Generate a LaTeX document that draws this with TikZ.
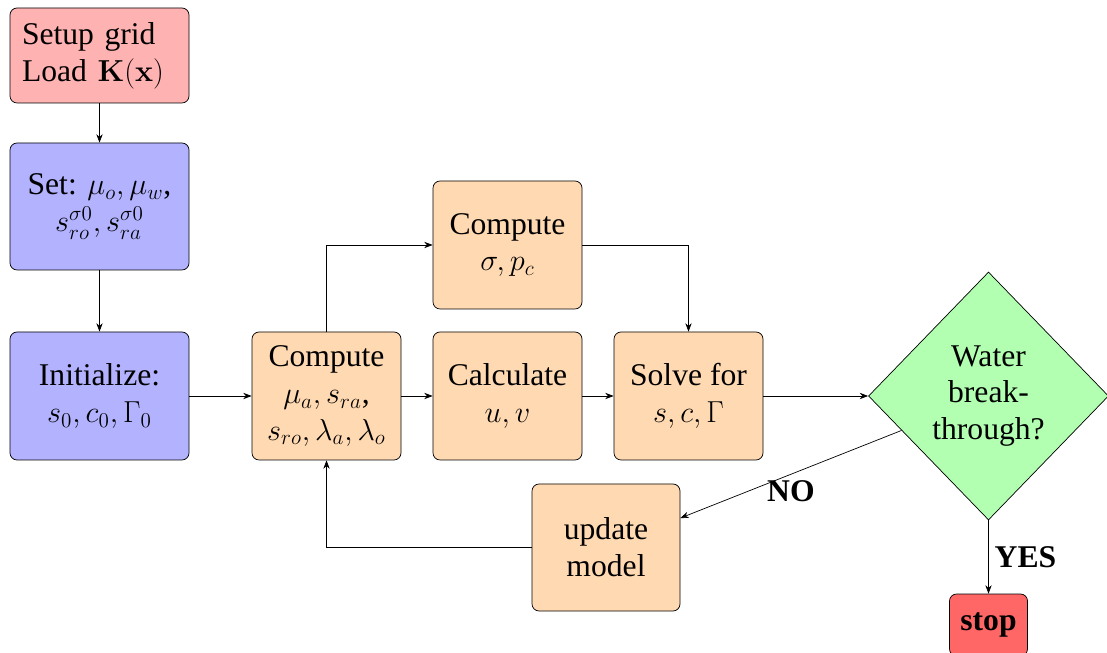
\documentclass[tikz,border=0pt]{standalone}
\usepackage[no-math]{fontspec}
\setmainfont{Liberation Serif}
\usetikzlibrary{shapes.geometric,arrows.meta}

\begin{document}
\begin{tikzpicture}[font=\fontsize{18}{21}\selectfont, >=Stealth,
  box/.style={draw, rounded corners=4pt, align=center, minimum width=2.98cm, minimum height=2.56cm, inner sep=2pt},
  prep/.style={box, fill=blue!30, minimum width=3.58cm},
  calcbox/.style={box, fill=orange!30}]
\useasboundingbox (0,0) rectangle (22.14,-13.06);
\node[box, fill=red!30, minimum width=3.58cm, minimum height=1.9cm, align=left, text width=3.1cm] (setup) at (1.99,-1.11) {Setup grid\\Load $\mathbf{K}(\mathbf{x})$};
\node[prep, minimum height=2.54cm] (set) at (1.99,-4.13) {Set: $\mu_o, \mu_w$,\\$s_{ro}^{\sigma 0}, s_{ra}^{\sigma 0}$};
\node[prep] (init) at (1.99,-7.92) {Initialize:\\$s_0, c_0, \Gamma_0$};
\node[calcbox] (comp) at (6.53,-7.92) {Compute\\$\mu_a, s_{ra}$,\\$s_{ro}, \lambda_a, \lambda_o$};
\node[calcbox] (sigma) at (10.15,-4.90) {Compute\\$\sigma, p_c$};
\node[calcbox] (calc) at (10.15,-7.92) {Calculate\\$u, v$};
\node[calcbox] (solve) at (13.77,-7.92) {Solve for\\$s, c, \Gamma$};
\node[draw, diamond, fill=green!30, minimum width=4.8cm, minimum height=4.96cm, inner sep=0pt, align=center] (water) at (19.77,-7.92) {Water\\break-\\through?};
\node[calcbox, minimum width=2.96cm, minimum height=2.54cm] (update) at (12.12,-10.95) {update\\model};
\node[box, fill=red!60, minimum width=1.56cm, minimum height=1.24cm, font=\fontsize{18}{21}\selectfont\bfseries] (stop) at (19.77,-12.5) {stop};
\draw[->] (setup) -- (set);
\draw[->] (set) -- (init);
\draw[->] (init) -- (comp);
\draw[->] (comp) -- (calc);
\draw[->] (calc) -- (solve);
\draw[->] (solve) -- (water);
\draw[->] (comp.north) |- (sigma.west);
\draw[->] (sigma.east) -| (solve.north);
\draw[->] (water) -- node[below, font=\fontsize{18}{21}\selectfont\bfseries] {NO} (update);
\draw[->] (water) -- node[right, font=\fontsize{18}{21}\selectfont\bfseries] {YES} (stop);
\draw[->] (update.west) -| (comp.south);
\end{tikzpicture}
\end{document}
